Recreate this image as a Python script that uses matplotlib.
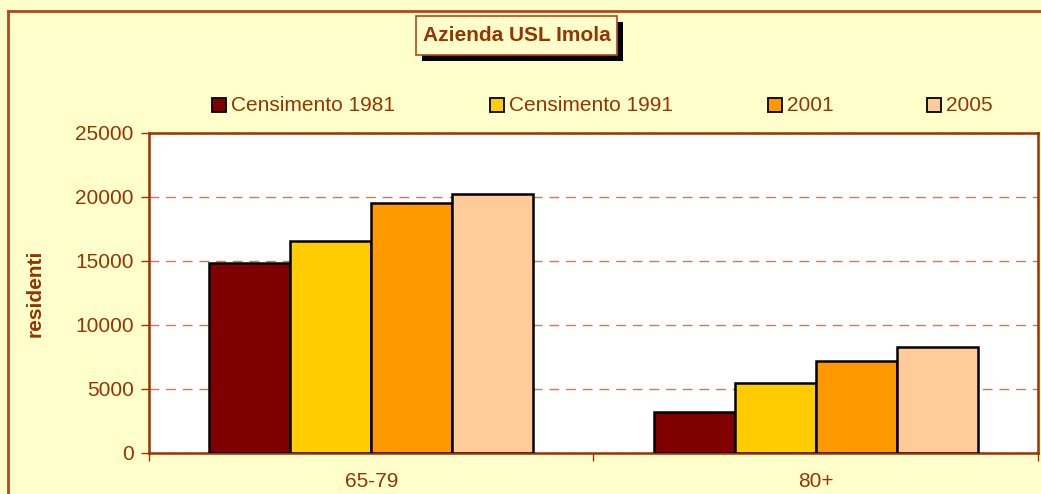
import numpy as np
import matplotlib.pyplot as plt
from matplotlib.patches import Rectangle

# data
categories = ['65-79', '80+']
series = ['Censimento 1981', 'Censimento 1991', '2001', '2005']
v1981 = [14850, 3200]
v1991 = [16550, 5450]
v2001 = [19550, 7200]
v2005 = [20250, 8300]
values = [v1981, v1991, v2001, v2005]
colors = ['#800000', '#FFCC00', '#FF9900', '#FFCC99']

brown = '#993300'
bg = '#FFFFCC'
plt.rcParams['font.family'] = ['Liberation Sans', 'DejaVu Sans']

fig = plt.figure(figsize=(10.41, 4.94), dpi=100, facecolor=bg)
ax = fig.add_axes([0.1431, 0.0830, 0.9971 - 0.1431, 0.7308 - 0.0830])
ax.set_facecolor('white')

x = np.arange(len(categories))
w = 0.182
for i, (vals, c) in enumerate(zip(values, colors)):
    ax.bar(x + (i - 1.5) * w, vals, w, color=c, edgecolor='black',
           linewidth=1.8, label=series[i], zorder=3)

ax.set_xlim(-0.5, 1.5)
ax.set_ylim(0, 25000)
ax.set_yticks(np.arange(0, 25001, 5000))
ax.yaxis.grid(True, color='#B8683A', linestyle=(0, (7, 5)), linewidth=1.0, alpha=0.85)
ax.set_axisbelow(True)

ax.set_xticks(x)
ax.set_xticklabels(categories)
ax.set_xticks([-0.5, 0.5, 1.5], minor=True)
ax.tick_params(axis='x', which='major', length=0, pad=14, labelsize=15, labelcolor=brown)
ax.tick_params(axis='x', which='minor', length=6, color=brown, width=1)
ax.tick_params(axis='y', length=6, color=brown, width=1, pad=5, labelsize=15, labelcolor=brown)

for s in ax.spines.values():
    s.set_color(brown)
    s.set_linewidth(1.8)

ax.set_ylabel('residenti', fontsize=15, fontweight='bold', color=brown, labelpad=22)

# outer chart border (left and top only visible)
fig.add_artist(plt.Line2D([8/1041, 8/1041], [0, 1 - 11/494], transform=fig.transFigure,
                          color='#B5471B', linewidth=2))
fig.add_artist(plt.Line2D([8/1041, 1], [1 - 11/494, 1 - 11/494], transform=fig.transFigure,
                          color='#B5471B', linewidth=2))

# title box with shadow
bx, by, bw, bh = 416/1041, 1 - 55/494, 201/1041, 39/494
fig.add_artist(Rectangle((bx + 6/1041, by - 6/494), bw, bh, transform=fig.transFigure,
                         facecolor='black', edgecolor='none'))
fig.add_artist(Rectangle((bx, by), bw, bh, transform=fig.transFigure,
                         facecolor=bg, edgecolor='#B5471B', linewidth=1.2))
fig.text(bx + bw/2, by + bh/2, 'Azienda USL Imola', ha='center', va='center',
         fontsize=15, fontweight='bold', color=brown)

# legend drawn by hand to match spacing
leg_x = [212, 490, 768, 927]
ly = 1 - 105/494
for px, lab, c in zip(leg_x, series, colors):
    fig.add_artist(Rectangle((px/1041, ly - 7/494), 14/1041, 14/494,
                             transform=fig.transFigure, facecolor=c,
                             edgecolor='black', linewidth=1.3))
    fig.text((px + 19)/1041, ly, lab, ha='left', va='center',
             fontsize=15, color=brown)

fig.savefig('out.png', dpi=100, facecolor=bg)
